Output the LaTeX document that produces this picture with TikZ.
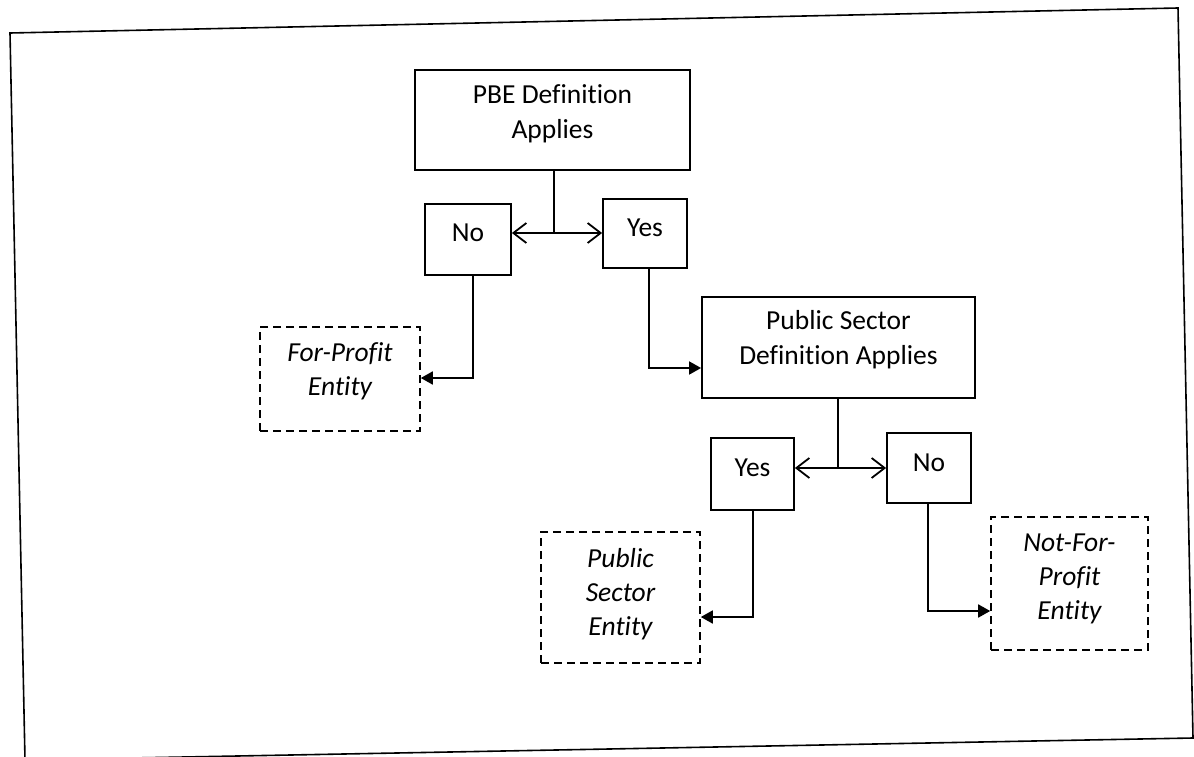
\documentclass[tikz,border=0pt]{standalone}
\usepackage{fontspec}
\setmainfont{Carlito}[Ligatures=NoCommon]
\usetikzlibrary{arrows.meta,calc}
\begin{document}
\begin{tikzpicture}[x=1pt,y=-1pt,
  box/.style={draw,line width=1.8pt,align=center,inner sep=0pt,font=\fontsize{27.5}{35}\selectfont},
  endbox/.style={draw,line width=1.6pt,dash pattern=on 8pt off 5pt,align=center,inner sep=0pt,font=\fontsize{27.5}{34}\selectfont\itshape},
  link/.style={line width=1.8pt},
  twoway/.style={link,{Straight Barb[length=13pt,width=20pt,line width=1.8pt]}-{Straight Barb[length=13pt,width=20pt,line width=1.8pt]}},
  elbow/.style={link,-{Triangle[length=12pt,width=13pt]}}
]
\useasboundingbox (0,0) rectangle (1194,757);
\clip (0,0) rectangle (1194,757);
\draw[line width=1.6pt] (10,33) -- (1178,8) -- (1193,738) -- (25,760) -- cycle;

\node[box,minimum width=275pt,minimum height=100pt,text depth=17pt] (pbe) at (552.5,120) {PBE Definition\\Applies};
\node[box,minimum width=86pt,minimum height=71pt,text depth=13pt] (no1) at (468,239.5) {No};
\node[box,minimum width=84pt,minimum height=69pt,text depth=11pt] (yes1) at (645,233.5) {Yes};
\node[endbox,minimum width=160pt,minimum height=104pt,text depth=19pt] (fp) at (340,379) {For-Profit\\Entity};
\node[box,minimum width=273pt,minimum height=101pt,text depth=20pt] (ps) at (838.5,347.5) {Public Sector\\Definition Applies};
\node[box,minimum width=83pt,minimum height=72pt,text depth=12pt] (yes2) at (752.5,474) {Yes};
\node[box,minimum width=84pt,minimum height=70pt,text depth=10pt] (no2) at (929,468) {No};
\node[endbox,minimum width=159pt,minimum height=131pt,text depth=11pt] (pse) at (620.5,597.5) {Public\\Sector\\Entity};
\node[endbox,minimum width=157pt,minimum height=133pt,text depth=13pt] (nfp) at (1069.5,583.5) {Not-For-\\Profit\\Entity};

\coordinate (j1) at (554,233);
\coordinate (c1) at (473,378);
\coordinate (c2) at (649,368);
\coordinate (j2) at (838,468);
\coordinate (c3) at (753,617);
\coordinate (c4) at (928,611);

\draw[link] (pbe.south -| j1) -- (j1);
\draw[twoway] (no1.east |- j1) -- (yes1.west |- j1);
\draw[elbow] (no1.south -| c1) |- (fp.east |- c1);
\draw[elbow] (yes1.south -| c2) |- (ps.west |- c2);
\draw[link] (ps.south -| j2) -- (j2);
\draw[twoway] (yes2.east |- j2) -- (no2.west |- j2);
\draw[elbow] (yes2.south -| c3) |- (pse.east |- c3);
\draw[elbow] (no2.south -| c4) |- (nfp.west |- c4);
\end{tikzpicture}
\end{document}
